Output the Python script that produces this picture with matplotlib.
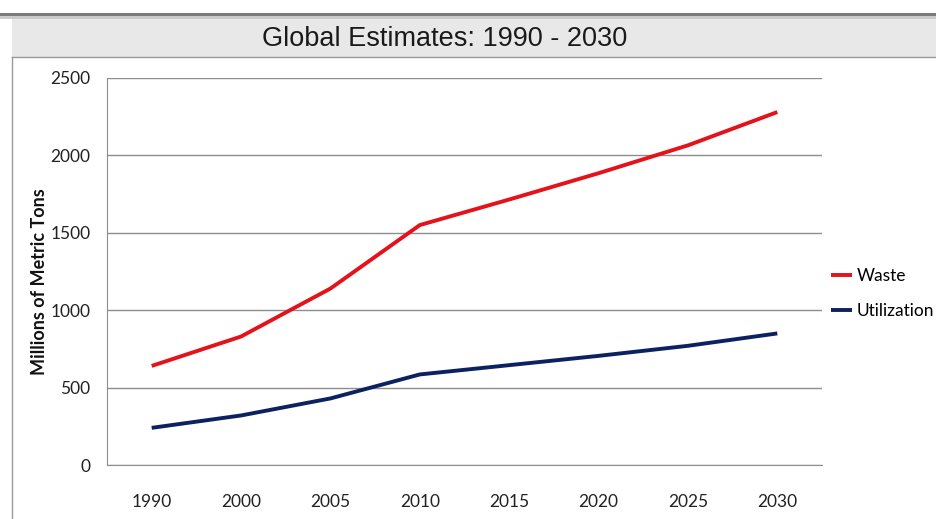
import matplotlib.pyplot as plt
from matplotlib.patches import Rectangle
from matplotlib.lines import Line2D

years = ['1990', '2000', '2005', '2010', '2015', '2020', '2025', '2030']
waste = [640, 830, 1140, 1550, 1715, 1885, 2065, 2280]
utilization = [240, 320, 430, 585, 645, 705, 770, 850]

W, H = 936, 519
fig = plt.figure(figsize=(W / 100, H / 100), dpi=100)
fig.patch.set_facecolor('white')

def fy(py):
    return 1 - py / H

# title band and chart frame
fig.patches.append(Rectangle((12 / W, fy(57)), 1 - 12 / W, (57 - 15) / H,
                             transform=fig.transFigure, facecolor='#e8e8e8',
                             edgecolor='none', zorder=0))
fig.lines.append(Line2D([0, 1], [fy(14), fy(14)], transform=fig.transFigure,
                        color='#7a7a7a', lw=2.2))
fig.lines.append(Line2D([0, 1], [fy(17), fy(17)], transform=fig.transFigure,
                        color='#c8c8c8', lw=2))
fig.lines.append(Line2D([12 / W, 1], [fy(57), fy(57)], transform=fig.transFigure,
                        color='#9a9a9a', lw=1))
fig.lines.append(Line2D([12 / W, 12 / W], [0, fy(57)], transform=fig.transFigure,
                        color='#9a9a9a', lw=1))
fig.text(445 / W, fy(39), 'Global Estimates: 1990 - 2030', ha='center', va='center',
         fontsize=19.5, family='Liberation Sans', color='#1a1a1a')

ax = fig.add_axes([107 / W, fy(465), (822 - 107) / W, (465 - 78) / H])
x = range(len(years))
ax.plot(x, waste, color='#e3121b', lw=2.8, label='Waste', solid_capstyle='butt', zorder=3)
ax.plot(x, utilization, color='#0c2160', lw=2.8, label='Utilization', solid_capstyle='butt', zorder=3)

ax.set_xlim(-0.5, len(years) - 0.5)
ax.set_ylim(0, 2500)
ax.set_yticks(range(0, 2501, 500))
ax.set_xticks(list(x))
ax.set_xticklabels(years)
ax.grid(axis='y', color='#8e8e8e', lw=1)
ax.set_axisbelow(True)
for side in ['top', 'right']:
    ax.spines[side].set_visible(False)
for side in ['left', 'bottom']:
    ax.spines[side].set_color('#8e8e8e')
ax.tick_params(length=0, labelsize=12.5, colors='#222222')
ax.tick_params(axis='y', pad=12)
ax.tick_params(axis='x', pad=21)
for lab in ax.get_xticklabels() + ax.get_yticklabels():
    lab.set_family('Lato')

ax.set_ylabel('Millions of Metric Tons', fontsize=13, fontweight='bold',
              family='Lato', color='#111111')
ax.yaxis.set_label_coords(-0.082, 0.475)

ax.legend(loc='upper left', bbox_to_anchor=(831 / W, fy(268)), bbox_transform=fig.transFigure,
          frameon=False, handlelength=1.2, handletextpad=0.3, labelspacing=1.1,
          prop={'family': 'Lato', 'size': 12.5}, borderaxespad=0, borderpad=0)

fig.savefig('out.png', dpi=100)
